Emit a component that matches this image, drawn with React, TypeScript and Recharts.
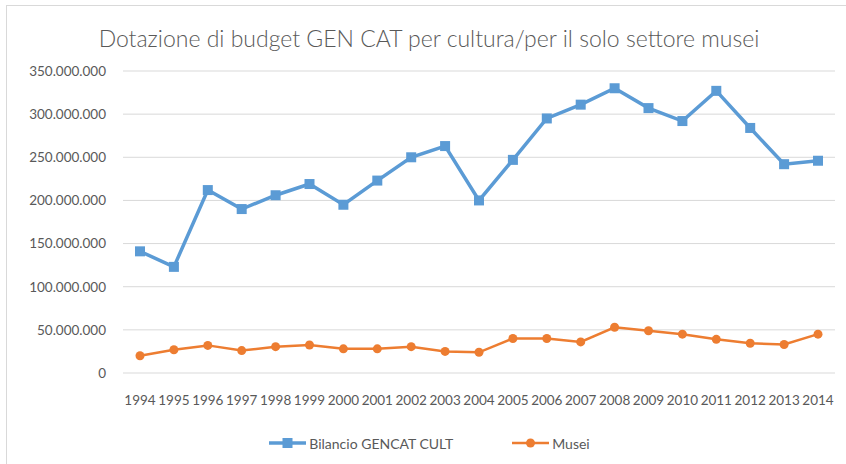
import React from "react";
import {
  LineChart, Line, XAxis, YAxis, CartesianGrid, Legend,
} from "recharts";

const years = [
  "1994", "1995", "1996", "1997", "1998", "1999", "2000", "2001", "2002", "2003",
  "2004", "2005", "2006", "2007", "2008", "2009", "2010", "2011", "2012", "2013", "2014",
];

const bilancio = [
  141000000, 123000000, 212000000, 190000000, 206000000, 219000000, 195000000,
  223000000, 250000000, 263000000, 200000000, 247000000, 295000000, 311000000,
  330000000, 307000000, 292000000, 327000000, 284000000, 242000000, 246000000,
];

const musei = [
  20000000, 27000000, 32000000, 26000000, 30500000, 32500000, 28000000,
  28000000, 30500000, 25000000, 24000000, 40000000, 40000000, 36000000,
  53000000, 49000000, 45000000, 39000000, 34500000, 33000000, 45000000,
];

const yTicks = [0, 50000000, 100000000, 150000000, 200000000, 250000000, 300000000, 350000000];

const BLUE = "#5B9BD5";
const ORANGE = "#ED7D31";
const TEXT = "#595959";
const FONT = "Lato, 'Open Sans', sans-serif";

const data = years.map((year, i) => ({
  year,
  bilancio: bilancio[i],
  musei: musei[i],
}));

const fmt = (v: number) => String(v).replace(/\B(?=(\d{3})+(?!\d))/g, ".");

function SquareDot(props: any) {
  const { cx, cy, index } = props;
  if (cx == null || cy == null) return null;
  return <rect key={`sq-${index}`} x={cx - 5} y={cy - 5} width={10} height={10} fill={BLUE} />;
}

function LegendContent({ payload }: { payload?: any[] }) {
  if (!payload) return null;
  return (
    <div style={{ display: "flex", justifyContent: "center", alignItems: "center", height: 30, gap: 59, paddingLeft: 24 }}>
      {payload.map((p) => {
        const isBlue = p.dataKey === "bilancio";
        const color = isBlue ? BLUE : ORANGE;
        return (
          <div key={p.dataKey} style={{ display: "flex", alignItems: "center" }}>
            <svg width={37} height={12} style={{ marginRight: 3 }}>
              <line x1={0} y1={6} x2={37} y2={6} stroke={color} strokeWidth={isBlue ? 3.5 : 2.5} />
              {isBlue
                ? <rect x={13.5} y={1} width={10} height={10} fill={color} />
                : <circle cx={18.5} cy={6} r={4.5} fill={color} />}
            </svg>
            <span style={{ color: TEXT, fontSize: 14, fontFamily: FONT }}>{p.value}</span>
          </div>
        );
      })}
    </div>
  );
}

export default function App() {
  return (
    <div style={{ position: "absolute", left: 0, top: 0, width: 846, height: 464, overflow: "hidden", background: "#fff", fontFamily: FONT }}>
      <div style={{ position: "absolute", left: 6, top: 5, width: 900, height: 500, border: "1px solid #D9D9D9" }} />
      <div style={{ position: "absolute", left: 0, top: 24, width: 858, textAlign: "center", fontSize: 23, fontWeight: 300, color: TEXT, lineHeight: "28px" }}>
        Dotazione di budget GEN CAT per cultura/per il solo settore musei
      </div>
      <div style={{ position: "absolute", left: 0, top: 0 }}>
        <LineChart width={846} height={464} data={data} margin={{ top: 71, right: 11, bottom: 6, left: 0 }}>
          <CartesianGrid vertical={false} stroke="#D9D9D9" strokeWidth={1} />
          <XAxis
            dataKey="year"
            interval={0}
            padding={{ left: 17, right: 17 }}
            axisLine={false}
            tickLine={false}
            tickMargin={16}
            height={55}
            tick={{ fill: TEXT, fontSize: 13.5 }}
          />
          <YAxis
            width={123}
            domain={[0, 350000000]}
            ticks={yTicks}
            tickFormatter={fmt}
            axisLine={false}
            tickLine={false}
            tickMargin={11}
            tick={{ fill: TEXT, fontSize: 13.5 }}
          />
          <Legend verticalAlign="bottom" height={30} content={<LegendContent />} />
          <Line
            dataKey="bilancio"
            name="Bilancio GENCAT CULT"
            stroke={BLUE}
            strokeWidth={3.5}
            dot={<SquareDot />}
            activeDot={false}
            isAnimationActive={false}
          />
          <Line
            dataKey="musei"
            name="Musei"
            stroke={ORANGE}
            strokeWidth={2.5}
            dot={{ r: 4.5, fill: ORANGE, stroke: ORANGE, strokeWidth: 0 }}
            activeDot={false}
            isAnimationActive={false}
          />
        </LineChart>
      </div>
    </div>
  );
}
